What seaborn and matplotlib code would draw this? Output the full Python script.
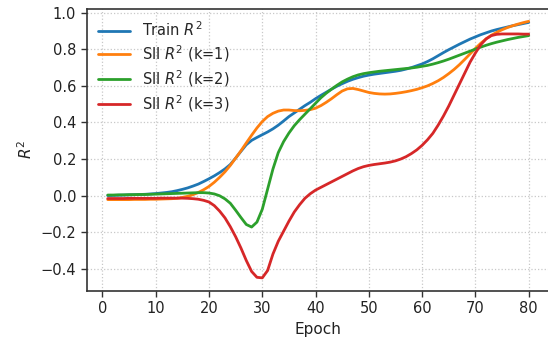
import numpy as np
import pandas as pd
import matplotlib
matplotlib.use("Agg")
import matplotlib.pyplot as plt
import seaborn as sns

epochs = list(range(1, 81))

train_r2 = [
    0.000, 0.001, 0.002, 0.003, 0.004, 0.005, 0.006, 0.007, 0.009, 0.011,
    0.014, 0.017, 0.021, 0.027, 0.034, 0.042, 0.052, 0.063, 0.077, 0.092,
    0.108, 0.126, 0.146, 0.170, 0.205, 0.242, 0.278, 0.302, 0.318, 0.333,
    0.348, 0.365, 0.385, 0.408, 0.432, 0.452, 0.472, 0.492, 0.510, 0.530,
    0.548, 0.565, 0.582, 0.598, 0.612, 0.625, 0.636, 0.645, 0.653, 0.659,
    0.664, 0.668, 0.672, 0.676, 0.680, 0.685, 0.692, 0.700, 0.710, 0.720,
    0.733, 0.748, 0.765, 0.782, 0.798, 0.813, 0.828, 0.842, 0.856, 0.868,
    0.880, 0.890, 0.900, 0.908, 0.915, 0.922, 0.929, 0.935, 0.941, 0.947,
]

sii_k1 = [
    -0.022, -0.022, -0.022, -0.022, -0.022, -0.021, -0.021, -0.021, -0.020, -0.020,
    -0.019, -0.018, -0.017, -0.015, -0.010, -0.004, 0.005, 0.017, 0.032, 0.050,
    0.073, 0.100, 0.130, 0.165, 0.205, 0.245, 0.288, 0.330, 0.370, 0.405,
    0.432, 0.450, 0.462, 0.468, 0.468, 0.465, 0.464, 0.466, 0.470, 0.478,
    0.492, 0.510, 0.530, 0.552, 0.572, 0.584, 0.586, 0.580, 0.572, 0.564,
    0.559, 0.556, 0.555, 0.556, 0.559, 0.563, 0.568, 0.574, 0.581, 0.590,
    0.600, 0.613, 0.628, 0.646, 0.667, 0.690, 0.716, 0.745, 0.775, 0.805,
    0.833, 0.857, 0.877, 0.893, 0.907, 0.919, 0.929, 0.938, 0.946, 0.953,
]

sii_k2 = [
    0.003, 0.003, 0.004, 0.004, 0.005, 0.005, 0.006, 0.006, 0.007, 0.008,
    0.009, 0.010, 0.011, 0.012, 0.013, 0.014, 0.015, 0.016, 0.016, 0.014,
    0.009, -0.001, -0.018, -0.042, -0.080, -0.120, -0.158, -0.172, -0.145, -0.075,
    0.035, 0.145, 0.235, 0.295, 0.342, 0.382, 0.415, 0.445, 0.475, 0.505,
    0.535, 0.560, 0.582, 0.603, 0.622, 0.637, 0.650, 0.660, 0.667, 0.672,
    0.676, 0.680, 0.683, 0.686, 0.689, 0.692, 0.695, 0.698, 0.702, 0.707,
    0.712, 0.719, 0.727, 0.736, 0.746, 0.757, 0.768, 0.779, 0.790, 0.801,
    0.812, 0.822, 0.831, 0.839, 0.846, 0.853, 0.859, 0.865, 0.870, 0.875,
]

sii_k3 = [
    -0.016, -0.016, -0.016, -0.016, -0.015, -0.015, -0.015, -0.015, -0.015, -0.015,
    -0.014, -0.014, -0.014, -0.014, -0.014, -0.015, -0.017, -0.020, -0.026, -0.035,
    -0.055, -0.085, -0.122, -0.170, -0.225, -0.287, -0.355, -0.415, -0.447, -0.450,
    -0.410, -0.320, -0.250, -0.195, -0.140, -0.090, -0.050, -0.015, 0.010, 0.030,
    0.045, 0.060, 0.075, 0.090, 0.105, 0.120, 0.135, 0.148, 0.158, 0.165,
    0.170, 0.174, 0.178, 0.183, 0.190, 0.200, 0.213, 0.230, 0.250, 0.275,
    0.305, 0.340, 0.385, 0.435, 0.490, 0.550, 0.610, 0.670, 0.730, 0.780,
    0.825, 0.857, 0.875, 0.882, 0.884, 0.884, 0.884, 0.884, 0.883, 0.883,
]

labels = ["Train $R^2$", "SII $R^2$ (k=1)", "SII $R^2$ (k=2)", "SII $R^2$ (k=3)"]
colors = ["#1f77b4", "#ff7f0e", "#2ca02c", "#d62728"]

frames = []
for lab, vals in zip(labels, [train_r2, sii_k1, sii_k2, sii_k3]):
    frames.append(pd.DataFrame({"Epoch": epochs, "R2": vals, "series": lab}))
df = pd.concat(frames, ignore_index=True)

sns.set_style("white")
plt.rcParams["font.family"] = ["DejaVu Sans"]

fig = plt.figure(figsize=(5.48, 3.39), dpi=100)
ax = fig.add_axes([0.1582, 0.1425, 0.845, 0.8324])

sns.lineplot(data=df, x="Epoch", y="R2", hue="series", hue_order=labels,
             palette=colors, linewidth=2.0, ax=ax, legend=True)

ax.set_xticks([0, 10, 20, 30, 40, 50, 60, 70, 80])
ax.set_yticks([-0.4, -0.2, 0.0, 0.2, 0.4, 0.6, 0.8, 1.0])
ax.set_yticklabels(["\u22120.4", "\u22120.2", "0.0", "0.2", "0.4", "0.6", "0.8", "1.0"])
ax.margins(x=0.05, y=0.05)

ax.grid(True, linestyle=":", color="#c8c8c8", linewidth=0.9)
for s in ["left", "bottom", "top"]:
    ax.spines[s].set_visible(True)
    ax.spines[s].set_color("#333333")
    ax.spines[s].set_linewidth(1.2)
ax.spines["right"].set_visible(False)
ax.tick_params(axis="both", which="major", direction="out", length=4, width=1.0,
               color="#333333", labelsize=10.5, labelcolor="#222222",
               bottom=True, left=True)

ax.set_xlabel("Epoch", fontsize=11, color="#222222")
ax.set_ylabel("$R^2$", fontsize=11, color="#222222")

leg = ax.legend(loc="upper left", frameon=False, fontsize=10.5,
                handlelength=2.2, borderaxespad=0.4, labelspacing=0.3)
for line in leg.get_lines():
    line.set_linewidth(2.0)

fig.savefig("out.png", dpi=100)
